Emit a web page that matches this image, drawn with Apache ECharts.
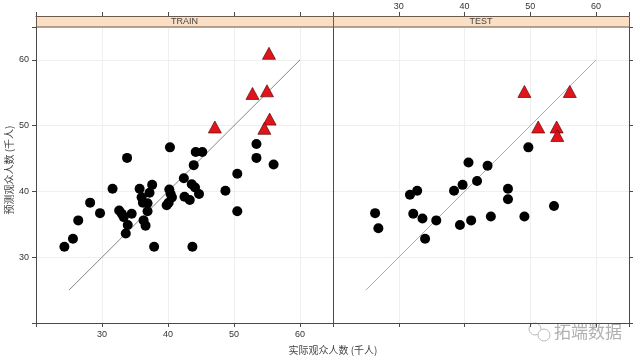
<!DOCTYPE html>
<html><head><meta charset="utf-8">
<script src="https://cdn.jsdelivr.net/npm/echarts@6/dist/echarts.min.js"></script>
<style>html,body{margin:0;padding:0;background:#fff}#c{width:640px;height:360px}</style>
</head><body><div id="c"></div><script>
const panels = ['TRAIN', 'TEST'];
const xTitle = '实际观众人数 (千人)';
const yTitle = '预测观众人数 (千人)';
const watermark = '拓端数据';
const refLine = [25, 60];

const trainCircles = [
  [24.3,31.6],[25.6,32.8],[26.4,35.6],[28.2,38.3],[29.7,36.7],[31.6,40.4],[32.6,37.1],[33.0,36.6],
  [33.3,36.1],[34.5,36.6],[33.9,34.9],[33.6,33.6],[33.8,45.1],[35.7,40.4],[36.0,39.1],[37.2,39.8],
  [37.6,41.0],[36.2,38.3],[36.9,38.2],[36.9,37.0],[36.3,35.6],[36.6,34.8],[37.9,31.6],[40.3,46.7],
  [40.2,40.3],[40.4,39.6],[40.6,39.1],[39.8,37.9],[40.1,38.3],[42.4,42.0],[43.6,41.1],[44.1,40.6],
  [42.5,39.2],[43.3,38.7],[44.7,39.6],[43.9,44.0],[44.2,46.0],[45.2,46.0],[43.7,31.6],[48.7,40.1],
  [50.5,37.0],[50.5,42.7],[53.4,47.2],[53.4,45.1],[56.0,44.1]
];
const trainTriangles = [[47.1,49.8],[52.8,54.9],[55.0,55.3],[55.3,61.0],[55.4,51.0],[54.6,49.6]];
const testCircles = [
  [26.4,36.7],[26.9,34.4],[31.7,39.5],[32.8,40.1],[32.2,36.6],[33.6,35.9],[34.0,32.8],[35.7,35.6],
  [38.4,40.1],[39.7,41.0],[40.6,44.4],[41.9,41.6],[39.3,34.9],[41.0,35.6],[43.5,43.9],[46.6,40.4],
  [46.6,38.8],[44.0,36.2],[49.1,36.2],[49.7,46.7],[53.6,37.8]
];
const testTriangles = [[49.1,55.2],[56.0,55.2],[51.2,49.8],[54.0,49.8],[54.1,48.5]];

const axisCol = '#4a4a4a';
const labelStyle = {color: '#333', fontSize: 9, fontFamily: 'Liberation Sans, Arial, sans-serif'};
const fmt = v => (v % 10 === 0 && v >= 30 && v <= 60) ? String(v) : '';

function mkAxis(gridIndex, position, o) {
  return Object.assign({
    type: 'value', gridIndex, position, min: 20, max: 65, interval: 10,
    axisLine: {show: true, onZero: false, lineStyle: {color: axisCol, width: 1}},
    axisTick: {show: true, inside: false, length: 4, lineStyle: {color: axisCol}},
    axisLabel: {show: false},
    splitLine: {show: false}
  }, o || {});
}
const grid = {lineStyle: {color: '#efefef', width: 1}};

const option = {
  animation: false,
  grid: [
    {left: 36, top: 27, width: 297, height: 296, outerBoundsMode: 'none'},
    {left: 333, top: 27, width: 296, height: 296, outerBoundsMode: 'none'}
  ],
  xAxis: [
    mkAxis(0, 'bottom', {axisLabel: Object.assign({show: true, margin: 7, formatter: fmt}, labelStyle), splitLine: Object.assign({show: true}, grid)}),
    mkAxis(0, 'top', {offset: 11}),
    mkAxis(1, 'bottom', {splitLine: Object.assign({show: true}, grid)}),
    mkAxis(1, 'top', {offset: 11, axisLabel: Object.assign({show: true, margin: 5, formatter: fmt}, labelStyle)})
  ],
  yAxis: [
    mkAxis(0, 'left', {axisLabel: Object.assign({show: true, margin: 7, formatter: fmt}, labelStyle), splitLine: Object.assign({show: true}, grid)}),
    mkAxis(0, 'right', {axisTick: {show: false}}),
    mkAxis(1, 'left', {axisTick: {show: false}, splitLine: Object.assign({show: true}, grid)}),
    mkAxis(1, 'right', {})
  ],
  series: [],
  graphic: []
};

const sets = [[trainCircles, trainTriangles], [testCircles, testTriangles]];
sets.forEach((s, i) => {
  const xi = i * 2, yi = i * 2;
  option.series.push({
    type: 'line', xAxisIndex: xi, yAxisIndex: yi, data: [[refLine[0], refLine[0]], [refLine[1], refLine[1]]],
    symbol: 'none', lineStyle: {color: i === 0 ? '#666' : '#999', width: 0.8}, z: 1, silent: true
  });
  option.series.push({
    type: 'scatter', xAxisIndex: xi, yAxisIndex: yi, data: s[0], symbol: 'circle', symbolSize: 10,
    itemStyle: {color: '#000', opacity: 1}, z: 3
  });
  option.series.push({
    type: 'scatter', xAxisIndex: xi, yAxisIndex: yi, data: s[1], symbol: 'triangle', symbolSize: [13, 12],
    itemStyle: {color: '#e0141a', borderColor: '#5a0a0a', borderWidth: 0.7, opacity: 1}, z: 4
  });
});

const stripX = [[36, 297], [333, 296]];
panels.forEach((p, i) => {
  option.graphic.push({
    type: 'rect', z: 50, shape: {x: stripX[i][0] + 0.5, y: 16.5, width: stripX[i][1], height: 10.5},
    style: {fill: '#FADFC4', stroke: '#6b5a4c', lineWidth: 1}
  });
  option.graphic.push({
    type: 'text', z: 51, x: stripX[i][0] + stripX[i][1] / 2, y: 22,
    style: {text: p, fill: '#444', font: '9px Liberation Sans, Arial, sans-serif', align: 'center', verticalAlign: 'middle'}
  });
});
option.graphic.push({
  type: 'text', z: 51, x: 333, y: 350,
  style: {text: xTitle, fill: '#444', font: '10px "Noto Sans CJK SC", sans-serif', align: 'center', verticalAlign: 'middle'}
});
option.graphic.push({
  type: 'text', z: 51, x: 9, y: 170, rotation: Math.PI / 2,
  style: {text: yTitle, fill: '#444', font: '10px "Noto Sans CJK SC", sans-serif', align: 'center', verticalAlign: 'middle'}
});
// watermark
option.graphic.push({
  type: 'group', z: 60, children: [
    {type: 'circle', shape: {cx: 535, cy: 329, r: 6}, style: {fill: 'none', stroke: '#bbb', lineWidth: 1}},
    {type: 'circle', shape: {cx: 544, cy: 335, r: 6}, style: {fill: '#fff', stroke: '#bbb', lineWidth: 1}},
    {type: 'text', x: 588, y: 332, style: {text: watermark, fill: '#b0b0b0', font: '17px "Noto Sans CJK SC", sans-serif', align: 'center', verticalAlign: 'middle'}}
  ]
});

const chart = echarts.init(document.getElementById('c'), null, {renderer: 'canvas'});
chart.setOption(option);
</script></body></html>
